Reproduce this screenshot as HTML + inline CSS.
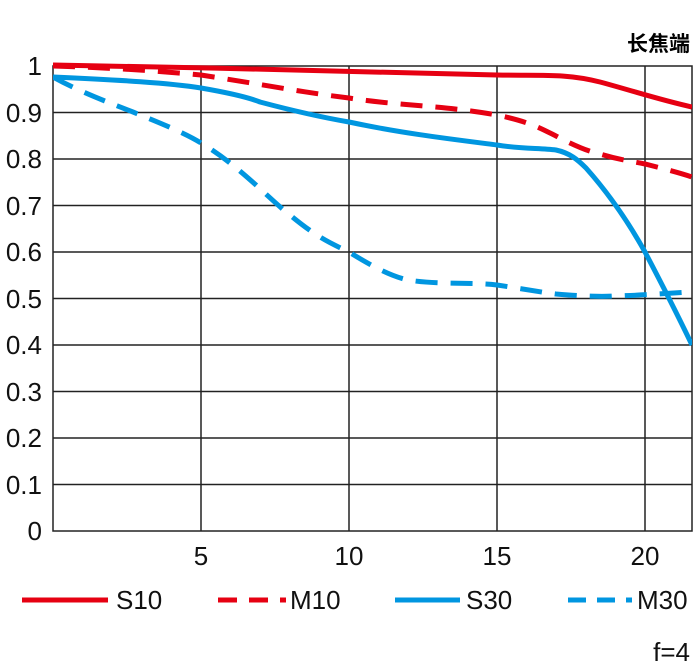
<!DOCTYPE html>
<html><head><meta charset="utf-8"><style>body{margin:0;background:#fff}svg{display:block}</style></head><body>
<svg width="700" height="670" viewBox="0 0 700 670" xmlns="http://www.w3.org/2000/svg" font-family="Liberation Sans, sans-serif">
<rect width="700" height="670" fill="#fff"/>
<g stroke="#222" stroke-width="1.5" fill="none">
<path d="M53,112.5H692M53,159H692M53,205.5H692M53,252H692M53,298.5H692M53,345H692M53,391.5H692M53,438H692M53,484.5H692"/>
<path d="M201,66V531M349,66V531M497,66V531M645,66V531"/>
<rect x="53" y="66" width="639" height="465"/>
</g>
<g font-size="26" fill="#111" text-anchor="end">
<text x="42" y="75">1</text><text x="42" y="122">0.9</text><text x="42" y="168">0.8</text><text x="42" y="215">0.7</text><text x="42" y="261">0.6</text><text x="42" y="308">0.5</text><text x="42" y="354">0.4</text><text x="42" y="401">0.3</text><text x="42" y="447">0.2</text><text x="42" y="494">0.1</text><text x="42" y="540">0</text>
</g>
<g font-size="26" fill="#111" text-anchor="middle">
<text x="201" y="565">5</text><text x="349" y="565">10</text><text x="497" y="565">15</text><text x="645" y="565">20</text>
</g>
<text x="690" y="51" font-size="21" font-weight="bold" text-anchor="end" font-family="Liberation Sans, Noto Sans CJK SC, sans-serif">长焦端</text>
<text x="690" y="661" font-size="26" text-anchor="end" fill="#111">f=4</text>
<g fill="none" stroke-width="5" clip-path="url(#c)">
<clipPath id="c"><rect x="53" y="60" width="639" height="475"/></clipPath>
<path stroke="#e60012" d="M53,65 C200,67 400,73 497,75 C540,76 565,73 600,82 C630,90 660,100 692,107"/>
<path stroke="#e60012" stroke-dasharray="22,13" d="M53,66 C120,68 170,72 201,75 C260,84 300,92 349,98 C400,106 440,105 497,115 C530,122 540,128 556,136 C575,146 590,152 600,154 C620,160 630,161 645,164 C665,169 680,173 692,177"/>
<path stroke="#0096e0" d="M53,77 C120,80 170,83 201,88 C230,93 250,98 260,102 C290,110 320,117 349,122 C400,133 450,139 497,145 C520,149 540,148 556,150 C570,153 578,160 586,168 C610,195 630,225 645,252 C665,290 680,320 692,345"/>
<path stroke="#0096e0" stroke-dasharray="22,13" d="M53,77 C80,92 110,103 133,112 C160,123 185,133 201,143 C240,166 270,200 290,215 C320,240 335,245 349,252 C370,265 390,276 408,280 C440,285 470,282 497,285 C530,290 540,292 556,294 C580,296 600,297 615,296 C650,295 670,293 692,292"/>
</g>
<g stroke-width="5">
<path stroke="#e60012" d="M22,600H108"/>
<path stroke="#e60012" stroke-dasharray="19,12" d="M218,600H286"/>
<path stroke="#0096e0" d="M395,600H460"/>
<path stroke="#0096e0" stroke-dasharray="18,11" d="M568,600H632"/>
</g>
<g font-size="26" fill="#111">
<text x="116" y="609">S10</text><text x="290" y="609">M10</text><text x="466" y="609">S30</text><text x="637" y="609">M30</text>
</g>
</svg>
</body></html>
